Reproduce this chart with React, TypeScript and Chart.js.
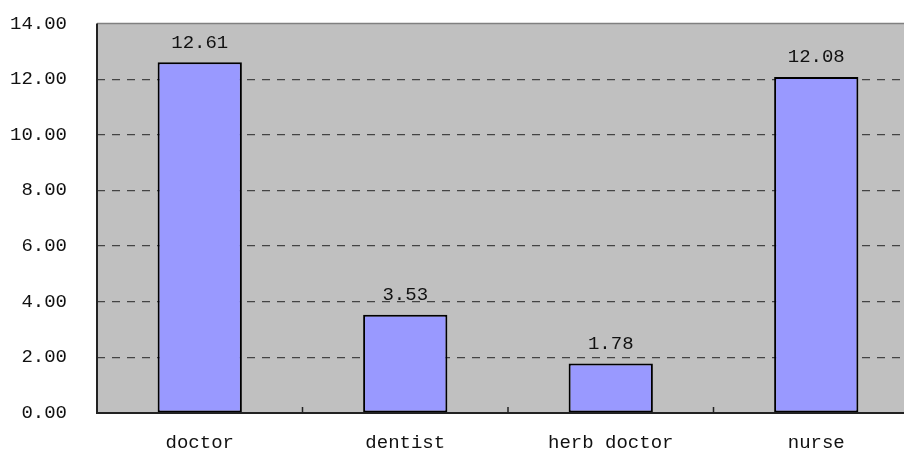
import React, { useEffect, useRef } from "react";
import { Chart, registerables } from "chart.js";

Chart.register(...registerables);

const categories = ["doctor", "dentist", "herb doctor", "nurse"];
const values = [12.61, 3.53, 1.78, 12.08];
const yMin = 0;
const yMax = 14;
const yStep = 2;

const FONT = "'Liberation Mono', monospace";
const FSIZE = 19;

const plotBg = {
  id: "plotBg",
  beforeDraw(chart: any) {
    const { ctx, chartArea: a } = chart;
    ctx.save();
    ctx.fillStyle = "#c0c0c0";
    ctx.fillRect(a.left, a.top, a.right - a.left, a.bottom - a.top);
    ctx.strokeStyle = "#808080";
    ctx.lineWidth = 1.5;
    ctx.beginPath();
    ctx.moveTo(a.left, a.top);
    ctx.lineTo(a.right, a.top);
    ctx.stroke();
    ctx.restore();
  },
  afterDatasetsDraw(chart: any) {
    const { ctx, chartArea: a } = chart;
    const xs = chart.scales.x;
    ctx.save();
    ctx.strokeStyle = "#222";
    ctx.lineWidth = 2;
    ctx.beginPath();
    ctx.moveTo(a.left, a.top);
    ctx.lineTo(a.left, a.bottom);
    ctx.lineTo(a.right, a.bottom);
    ctx.stroke();
    ctx.lineWidth = 1.5;
    for (let i = 0; i < categories.length - 1; i++) {
      const bx = (xs.getPixelForTick(i) + xs.getPixelForTick(i + 1)) / 2;
      ctx.beginPath();
      ctx.moveTo(bx, a.bottom);
      ctx.lineTo(bx, a.bottom - 6);
      ctx.stroke();
    }
    ctx.fillStyle = "#111";
    ctx.font = `${FSIZE}px ${FONT}`;
    ctx.textAlign = "center";
    ctx.textBaseline = "bottom";
    const meta = chart.getDatasetMeta(0);
    meta.data.forEach((el: any, i: number) => {
      ctx.fillText(values[i].toFixed(2), el.x, el.y - 10);
    });
    ctx.restore();
  },
};

export default function App() {
  const ref = useRef<HTMLCanvasElement>(null);
  useEffect(() => {
    if (!ref.current) return;
    const chart = new Chart(ref.current, {
      type: "bar",
      data: {
        labels: categories,
        datasets: [
          {
            data: values,
            backgroundColor: "#9999ff",
            borderColor: "#000",
            borderWidth: 2,
            borderSkipped: false,
            barPercentage: 0.41,
            categoryPercentage: 1,
          },
        ],
      },
      options: {
        responsive: false,
        animation: false,
        layout: { padding: { top: 23.5, right: 1, left: 0, bottom: 0 } },
        plugins: { legend: { display: false }, tooltip: { enabled: false } },
        scales: {
          x: {
            offset: true,
            grid: {
              display: true,
              drawOnChartArea: false,
              drawTicks: true,
              tickLength: 19,
              tickColor: "rgba(0,0,0,0)",
              color: "rgba(0,0,0,0)",
            },
            border: { display: false },
            ticks: {
              color: "#111",
              padding: 0,
              font: { family: FONT, size: FSIZE },
            },
            afterFit(scale: any) {
              scale.height = 41;
            },
          },
          y: {
            min: yMin,
            max: yMax,
            ticks: {
              stepSize: yStep,
              color: "#111",
              padding: 0,
              font: { family: FONT, size: FSIZE },
              callback: (v: any) => Number(v).toFixed(2),
            },
            grid: {
              drawTicks: true,
              tickLength: 30,
              tickColor: "rgba(0,0,0,0)",
              color: (ctx: any) =>
                ctx.tick && (ctx.tick.value === yMin || ctx.tick.value === yMax)
                  ? "rgba(0,0,0,0)"
                  : "#444",
              lineWidth: 1.2,
            },
            border: { display: false, dash: [8, 7] },
            afterFit(scale: any) {
              scale.width = 97;
            },
          },
        },
      },
      plugins: [plotBg],
    });
    return () => chart.destroy();
  }, []);
  return (
    <div
      style={{
        position: "fixed",
        left: 0,
        top: 0,
        width: 904,
        height: 454,
        overflow: "hidden",
        background: "#fff",
      }}
    >
      <canvas ref={ref} width={920} height={454} style={{ width: 920, height: 454 }} />
    </div>
  );
}
